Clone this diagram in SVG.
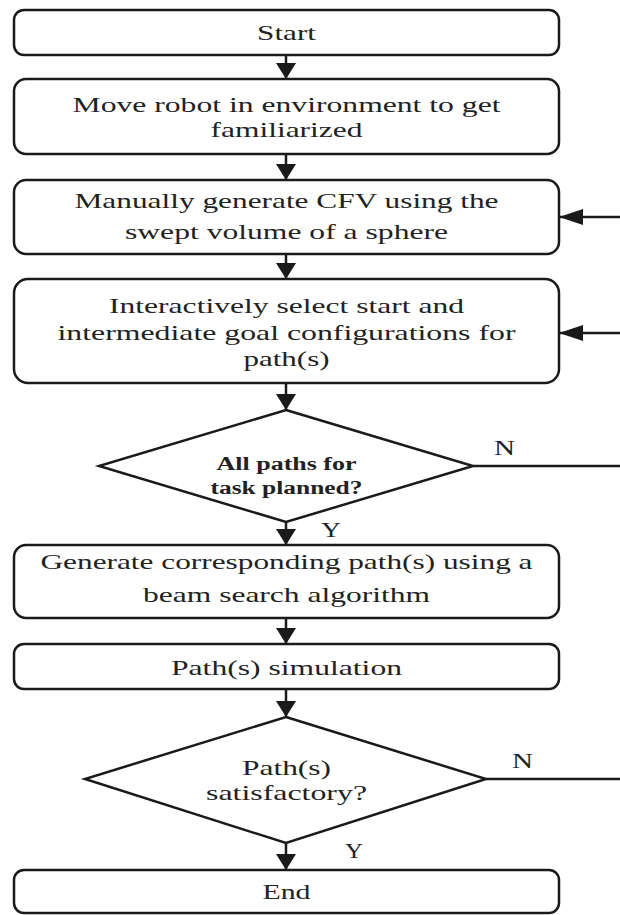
<svg xmlns="http://www.w3.org/2000/svg" width="620" height="915" viewBox="0 0 620 915">
<style>
.box{fill:#fff;stroke:#1a1a1a;stroke-width:2.5}
.dia{fill:#fff;stroke:#1a1a1a;stroke-width:2.5;stroke-linejoin:miter}
.t{font-family:"Liberation Serif","Times New Roman",serif;font-size:22px;fill:#222;text-anchor:middle}
.tb{font-family:"Liberation Serif","Times New Roman",serif;font-size:19.5px;font-weight:bold;fill:#222;text-anchor:middle}
.lbl{font-family:"Liberation Serif","Times New Roman",serif;font-size:22px;fill:#222}
.c{fill:none;stroke:#1a1a1a;stroke-width:2.5}
</style>
<defs>
<marker id="ahv" viewBox="0 0 16 20" refX="16" refY="10" markerWidth="16" markerHeight="20" markerUnits="userSpaceOnUse" orient="auto">
<path d="M0,0 L16,10 L0,20 z" fill="#1a1a1a"/>
</marker>
<marker id="ahh" viewBox="0 0 24 16" refX="24" refY="8" markerWidth="24" markerHeight="16" markerUnits="userSpaceOnUse" orient="auto">
<path d="M0,0 L24,8 L0,16 z" fill="#1a1a1a"/>
</marker>
</defs>
<rect width="620" height="915" fill="#fff"/>

<g id="start">
<rect class="box" x="14" y="10" width="545" height="45" rx="10"/>
<text class="t" transform="translate(286.5,40) scale(1.42,1)" textLength="41.5" lengthAdjust="spacingAndGlyphs">Start</text>
</g>
<g id="move">
<rect class="box" x="14" y="79" width="545" height="75" rx="12"/>
<text class="t" transform="translate(286.5,112) scale(1.42,1)" textLength="301.4" lengthAdjust="spacingAndGlyphs">Move robot in environment to get</text>
<text class="t" transform="translate(286.5,137) scale(1.42,1)" textLength="107" lengthAdjust="spacingAndGlyphs">familiarized</text>
</g>
<g id="manual">
<rect class="box" x="14" y="180" width="545" height="74" rx="12"/>
<text class="t" transform="translate(286.5,208) scale(1.42,1)" textLength="298.6" lengthAdjust="spacingAndGlyphs">Manually generate CFV using the</text>
<text class="t" transform="translate(286.5,239) scale(1.42,1)" textLength="227.5" lengthAdjust="spacingAndGlyphs">swept volume of a sphere</text>
</g>
<g id="select">
<rect class="box" x="14" y="279" width="545" height="104" rx="14"/>
<text class="t" transform="translate(286.5,313) scale(1.42,1)" textLength="250" lengthAdjust="spacingAndGlyphs">Interactively select start and</text>
<text class="t" transform="translate(286.5,340) scale(1.42,1)" textLength="322.5" lengthAdjust="spacingAndGlyphs">intermediate goal configurations for</text>
<text class="t" transform="translate(286.5,366) scale(1.42,1)" textLength="60.6" lengthAdjust="spacingAndGlyphs">path(s)</text>
</g>
<g id="allpaths">
<polygon class="dia" points="286,410 473,466 286,522 99,466"/>
<text class="tb" transform="translate(286.5,470) scale(1.42,1)" textLength="98.6" lengthAdjust="spacingAndGlyphs">All paths for</text>
<text class="tb" transform="translate(286.5,494) scale(1.42,1)" textLength="107" lengthAdjust="spacingAndGlyphs">task planned?</text>
</g>
<g id="generate">
<rect class="box" x="14" y="545" width="545" height="73" rx="12"/>
<text class="t" transform="translate(286.5,569) scale(1.42,1)" textLength="346.5" lengthAdjust="spacingAndGlyphs">Generate corresponding path(s) using a</text>
<text class="t" transform="translate(286.5,602) scale(1.42,1)" textLength="202.1" lengthAdjust="spacingAndGlyphs">beam search algorithm</text>
</g>
<g id="simulation">
<rect class="box" x="14" y="644" width="545" height="45" rx="10"/>
<text class="t" transform="translate(286.5,675) scale(1.42,1)" textLength="162.7" lengthAdjust="spacingAndGlyphs">Path(s) simulation</text>
</g>
<g id="satisfactory">
<polygon class="dia" points="286,717 486,779 286,843 85,779"/>
<text class="t" transform="translate(286.5,775) scale(1.42,1)" textLength="62.7" lengthAdjust="spacingAndGlyphs">Path(s)</text>
<text class="t" transform="translate(286.5,800) scale(1.42,1)" textLength="113.4" lengthAdjust="spacingAndGlyphs">satisfactory?</text>
</g>
<g id="end">
<rect class="box" x="14" y="870" width="545" height="43" rx="10"/>
<text class="t" transform="translate(286.5,899) scale(1.42,1)" textLength="33.8" lengthAdjust="spacingAndGlyphs">End</text>
</g>

<g id="connectors">
<line class="c" x1="286" y1="55" x2="286" y2="79" marker-end="url(#ahv)"/>
<line class="c" x1="286" y1="154" x2="286" y2="180" marker-end="url(#ahv)"/>
<line class="c" x1="286" y1="254" x2="286" y2="279" marker-end="url(#ahv)"/>
<line class="c" x1="286" y1="383" x2="286" y2="410" marker-end="url(#ahv)"/>
<line class="c" x1="286" y1="522" x2="286" y2="545" marker-end="url(#ahv)"/>
<line class="c" x1="286" y1="618" x2="286" y2="644" marker-end="url(#ahv)"/>
<line class="c" x1="286" y1="689" x2="286" y2="717" marker-end="url(#ahv)"/>
<line class="c" x1="286" y1="843" x2="286" y2="870" marker-end="url(#ahv)"/>
<line class="c" x1="473" y1="466" x2="620" y2="466"/>
<line class="c" x1="486" y1="779" x2="620" y2="779"/>
<line class="c" x1="620" y1="217" x2="559" y2="217" marker-end="url(#ahh)"/>
<line class="c" x1="620" y1="333" x2="559" y2="333" marker-end="url(#ahh)"/>
<text class="lbl" transform="translate(494,455) scale(1.42,1)" textLength="14.8" lengthAdjust="spacingAndGlyphs">N</text>
<text class="lbl" transform="translate(321,537) scale(1.42,1)" textLength="14.1" lengthAdjust="spacingAndGlyphs">Y</text>
<text class="lbl" transform="translate(512,768) scale(1.42,1)" textLength="14.8" lengthAdjust="spacingAndGlyphs">N</text>
<text class="lbl" transform="translate(345,858) scale(1.42,1)" textLength="12.7" lengthAdjust="spacingAndGlyphs">Y</text>
</g>
</svg>
